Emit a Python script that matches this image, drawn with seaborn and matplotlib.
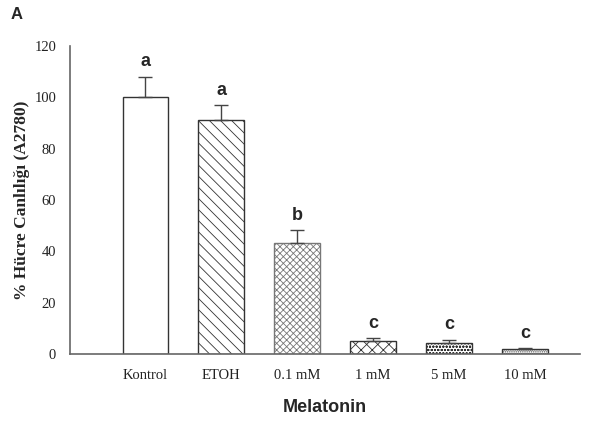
import matplotlib
matplotlib.use("Agg")
import matplotlib.pyplot as plt
import seaborn as sns
import pandas as pd

# values
groups = ["Kontrol", "ETOH", "0.1 mM", "1 mM", "5 mM", "10 mM"]
viability = [100, 91, 43.3, 5.1, 4.3, 1.8]
sem = [8, 6, 5, 1.1, 1.3, 0.4]
letters = ["a", "a", "b", "c", "c", "c"]
hatches = ["", "\\\\\\", "xxxxx", "xxx", "ooooo", "........."]

df = pd.DataFrame({"group": groups, "viability": viability})

sns.set_style("white")
plt.rcParams["hatch.linewidth"] = 0.6

fig = plt.figure(figsize=(5.94, 4.21), dpi=100)
ax = fig.add_axes([0.118, 0.159, 0.858, 0.732])

sns.barplot(data=df, x="group", y="viability", color="white", width=0.6,
            edgecolor="#333333", linewidth=1.0, ax=ax, errorbar=None)

for i, (bar, h) in enumerate(zip(ax.patches, hatches)):
    bar.set_hatch(h)
    bar.set_facecolor("white")
    # lighter texture for the 0.1 mM bar
    bar.set_edgecolor("#777777" if i == 2 else "#333333")

# upper error bars only
ax.errorbar(range(len(groups)), viability, yerr=[[0] * len(sem), sem],
            fmt="none", ecolor="#444444", elinewidth=1.0, capsize=5, capthick=1.0)

for i, (v, e, l) in enumerate(zip(viability, sem, letters)):
    ax.text(i, v + e + 2.5, l, ha="center", va="bottom", fontsize=13,
            fontweight="bold", family="Liberation Sans")

ax.set_ylim(0, 120)
ax.set_xlim(-0.99, 5.72)
ax.set_yticks(range(0, 121, 20))
ax.set_ylabel("% Hücre Canlılığı (A2780)", family="Liberation Serif",
              fontweight="bold", fontsize=12.5, labelpad=3)
ax.set_xlabel("Melatonin", family="Liberation Sans", fontweight="bold",
              fontsize=13, labelpad=12)

for lab in ax.get_xticklabels() + ax.get_yticklabels():
    lab.set_family("Liberation Serif")
    lab.set_fontsize(10.5)
    lab.set_color("#222222")

sns.despine(ax=ax)
for s in ["left", "bottom"]:
    ax.spines[s].set_color("#666666")
    ax.spines[s].set_linewidth(1.2)
ax.tick_params(axis="y", direction="out", length=4, width=1, color="#666666", pad=6)
ax.tick_params(axis="x", direction="inout", length=6, width=1, color="#666666", pad=8)

fig.text(0.018, 0.965, "A", fontsize=12, fontweight="bold", family="Liberation Sans",
         va="center")

fig.savefig("out.png", dpi=100)
